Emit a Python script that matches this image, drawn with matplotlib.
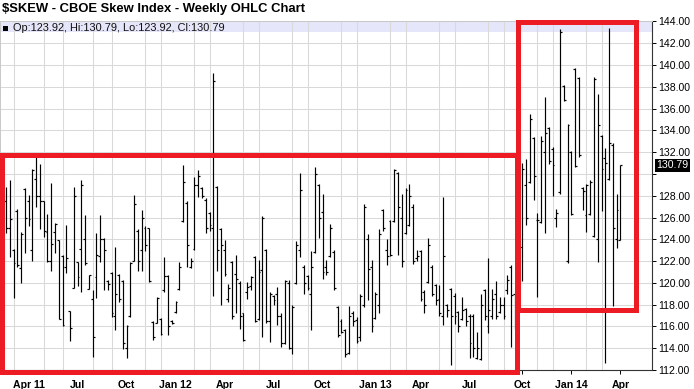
import matplotlib
matplotlib.use("Agg")
import matplotlib.pyplot as plt
from matplotlib.patches import Rectangle
from matplotlib.transforms import blended_transform_factory
import numpy as np
import pandas as pd

plt.rcParams['font.family'] = ['Liberation Sans', 'DejaVu Sans']

# ---------------- data (weekly OHLC of $SKEW) ----------------
first_week = "2011-02-14"
highs = [128.8, 129.4, 123.1, 126.8, 124.7, 128.7, 128.1, 130.5, 131.6, 130.9,
         127.5, 126.3, 129.2, 125.5, 123.9, 122.6, 125.3, 117.4, 128.8, 121.9,
         129.4, 126.2, 120.7, 119.3, 124.6, 126.2, 124.1, 120.3, 121.0, 123.3,
         120.8, 120.3, 116.1, 121.9, 128.1, 124.9, 126.7, 125.2, 125.0, 116.5,
         118.7, 116.8, 122.4, 120.7, 116.6, 118.3, 121.9, 130.8, 127.5, 122.3,
         129.7, 130.4, 128.8, 127.8, 126.5, 139.3, 128.9, 125.0, 123.9, 119.9,
         122.0, 122.6, 120.2, 117.2, 120.1, 120.6, 122.5, 122.1, 126.1, 123.1,
         119.2, 118.9, 119.6, 117.2, 120.3, 120.3, 118.0, 123.8, 130.1, 121.6,
         120.7, 122.9, 130.6, 129.1, 128.2, 122.1, 125.4, 123.0, 117.9, 116.7,
         115.8, 117.9, 117.4, 116.9, 119.0, 127.2, 124.5, 122.1, 119.2, 124.9,
         126.8, 124.0, 125.8, 130.5, 130.2, 128.2, 128.7, 129.1, 127.2, 123.0,
         123.0, 119.3, 124.1, 121.6, 119.9, 119.8, 127.9, 118.1, 119.5, 119.1,
         117.4, 118.7, 117.7, 117.1, 117.1, 115.5, 119.0, 119.4, 122.3, 119.4,
         120.2, 118.7, 118.7, 120.7, 121.6, 119.1, 121.0, 131.0, 131.4, 135.5,
         133.4, 126.4, 133.5, 137.1, 134.3, 132.5, 126.8, 143.3, 138.2, 134.6,
         132.1, 139.7, 138.9, 128.8, 129.1, 129.4, 138.9, 137.3, 133.6, 132.4,
         143.4, 132.8, 128.2, 130.79]
lows = [124.6, 122.4, 118.6, 121.5, 120.0, 122.7, 125.2, 122.0, 127.0, 124.9,
        124.2, 121.9, 121.1, 122.7, 116.7, 116.0, 120.9, 114.7, 119.5, 119.7,
        119.2, 121.6, 119.4, 113.2, 118.6, 121.9, 119.3, 119.3, 116.9, 115.7,
        118.2, 113.9, 113.1, 116.9, 122.0, 121.1, 121.1, 122.9, 120.1, 114.8,
        116.3, 115.2, 119.2, 115.2, 116.2, 117.2, 119.3, 125.6, 121.5, 121.4,
        123.0, 127.9, 127.8, 124.6, 124.8, 118.8, 121.1, 118.0, 120.6, 118.2,
        116.7, 117.2, 115.8, 114.7, 118.5, 119.3, 116.4, 116.6, 115.0, 116.3,
        114.6, 118.0, 116.1, 114.1, 114.4, 113.9, 113.5, 119.9, 122.4, 119.0,
        119.3, 115.7, 122.7, 124.1, 120.4, 120.7, 122.4, 119.3, 115.0, 115.4,
        113.2, 113.5, 116.0, 114.5, 114.7, 117.8, 118.4, 115.5, 116.7, 117.2,
        124.8, 121.6, 122.5, 125.6, 122.6, 121.5, 124.5, 125.2, 121.7, 122.0,
        118.3, 117.2, 120.0, 118.8, 118.0, 117.0, 116.1, 116.9, 112.5, 116.2,
        115.5, 116.6, 116.0, 113.1, 113.2, 113.0, 112.9, 116.6, 115.4, 116.7,
        116.7, 117.2, 116.7, 119.0, 114.1, 115.8, 118.5, 120.2, 125.3, 129.2,
        127.6, 118.7, 125.5, 124.6, 130.9, 128.0, 125.1, 128.2, 136.7, 121.8,
        126.2, 130.6, 131.6, 126.7, 124.7, 126.2, 124.2, 121.9, 126.6, 112.6,
        129.4, 117.9, 123.2, 123.92]
opens = [127.5, 125.0, 123.0, 126.6, 121.4, 128.6, 127.5, 123.0, 129.5, 128.0,
         127.5, 124.7, 122.0, 124.7, 123.9, 122.5, 121.5, 117.4, 119.5, 121.9,
         123.1, 124.0, 119.4, 118.5, 120.5, 122.5, 124.0, 120.2, 120.9, 117.0,
         120.7, 120.2, 114.0, 117.0, 122.0, 124.8, 123.0, 125.0, 125.0, 116.4,
         116.3, 116.7, 119.3, 120.6, 116.5, 117.3, 119.4, 125.7, 127.3, 121.5,
         123.1, 129.0, 128.7, 127.6, 126.4, 125.0, 128.8, 124.9, 123.0, 118.5,
         121.9, 120.8, 120.0, 117.2, 119.2, 119.7, 122.4, 116.7, 121.2, 123.0,
         116.5, 118.8, 119.0, 117.0, 114.5, 120.0, 114.0, 120.0, 123.0, 121.5,
         120.6, 119.0, 122.8, 129.0, 126.5, 121.5, 122.5, 122.8, 117.8, 116.5,
         115.7, 113.6, 117.2, 116.6, 115.0, 118.0, 124.0, 121.5, 116.8, 118.0,
         126.7, 123.0, 125.7, 125.7, 130.1, 126.0, 124.6, 125.3, 127.0, 122.3,
         122.9, 119.2, 120.1, 121.5, 119.8, 118.5, 117.0, 118.0, 119.4, 118.8,
         117.3, 116.7, 117.6, 117.0, 117.0, 113.1, 113.0, 119.3, 116.0, 117.0,
         119.0, 117.3, 118.0, 119.3, 121.5, 119.0, 119.0, 123.3, 129.0, 129.3,
         133.3, 125.8, 125.6, 132.0, 134.2, 132.3, 126.0, 128.3, 138.1, 122.0,
         132.0, 139.6, 138.8, 128.7, 126.2, 126.3, 124.3, 124.0, 133.5, 131.5,
         129.5, 132.7, 124.0, 123.92]
closes = [125.0, 125.9, 121.8, 121.6, 124.5, 126.0, 125.9, 130.4, 128.0, 127.5,
          124.8, 122.0, 123.6, 125.4, 116.7, 116.1, 122.3, 115.9, 128.0, 120.5,
          129.0, 121.8, 120.7, 115.0, 122.6, 124.0, 123.0, 119.9, 117.2, 119.0,
          118.5, 114.5, 116.0, 121.8, 127.2, 122.0, 126.0, 123.5, 120.2, 115.0,
          118.6, 115.3, 120.6, 116.0, 116.3, 118.2, 121.5, 129.3, 123.5, 122.0,
          129.0, 129.8, 128.0, 125.0, 125.3, 138.5, 123.0, 123.5, 120.8, 119.5,
          117.0, 120.4, 117.0, 114.8, 119.6, 120.5, 116.5, 121.0, 126.0, 116.5,
          119.0, 118.4, 117.0, 114.5, 120.2, 114.0, 117.8, 123.5, 128.5, 120.0,
          119.5, 121.5, 130.0, 126.0, 121.0, 121.0, 125.0, 119.5, 115.2, 115.5,
          113.5, 117.0, 116.5, 114.7, 118.8, 127.0, 121.3, 116.0, 119.0, 124.5,
          125.0, 122.5, 122.6, 130.4, 127.0, 122.0, 128.5, 128.0, 122.0, 122.5,
          118.5, 118.0, 123.5, 119.0, 118.4, 117.2, 122.5, 117.5, 117.0, 117.0,
          116.0, 117.5, 116.5, 114.5, 114.0, 114.0, 118.0, 117.0, 117.5, 118.5,
          117.0, 118.0, 117.0, 120.3, 118.9, 116.0, 120.5, 130.5, 126.0, 135.0,
          129.8, 125.8, 133.0, 133.8, 131.2, 130.8, 126.4, 143.0, 136.8, 134.5,
          126.3, 130.7, 131.7, 128.4, 129.0, 129.3, 138.7, 134.5, 130.5, 131.0,
          132.8, 125.0, 126.7, 130.79]
y_ticks = [112, 114, 116, 118, 120, 122, 124, 126, 128, 130, 132, 134, 136, 138, 140, 142, 144]
last_close = 130.79
title = "$SKEW - CBOE Skew Index - Weekly OHLC Chart"
header = "Op:123.92, Hi:130.79, Lo:123.92, Cl:130.79"

# ---------------- figure ----------------
W, H = 694, 389
fig = plt.figure(figsize=(W / 100, H / 100), dpi=100)
ax_l, ax_r, ax_t, ax_b = 0, 652, 20.6, 370
ax = fig.add_axes([ax_l / W, 1 - ax_b / H, (ax_r - ax_l) / W, (ax_b - ax_t) / H])

n = len(highs)
x = np.arange(n)
dates = pd.date_range(first_week, periods=n, freq="W-MON")

spacing = 3.769
x0_px = 6.0
ax.set_xlim((ax_l - x0_px) / spacing, (ax_r - x0_px) / spacing)
ax.set_ylim(112, 144.08)

# month boundaries (last bar of each month) and quarter labels
month_pos, q_pos, q_lab = [], [], []
for i in range(n):
    nxt = dates[i] + pd.Timedelta(days=7)
    if nxt.month != dates[i].month:
        month_pos.append(i)
        if nxt.month in (1, 4, 7, 10):
            q_pos.append(i)
            lab = nxt.strftime("%b")
            if nxt.month == 1 or len(q_lab) == 0:
                lab += " " + nxt.strftime("%y")
            q_lab.append(lab)

grid_c = "#d9d9d9"
ax.set_yticks(y_ticks)
ax.set_yticklabels(["" if abs(v - 130) < 1e-9 else f"{v:.2f}" for v in y_ticks])
ax.set_xticks(q_pos)
ax.set_xticklabels(q_lab, fontweight="bold", fontsize=7.6)
ax.set_xticks(month_pos, minor=True)
ax.grid(True, which="major", axis="y", color=grid_c, lw=0.75, zorder=0)
ax.grid(True, which="minor", axis="x", color=grid_c, lw=0.75, zorder=0)
ax.set_axisbelow(True)
ax.yaxis.tick_right()
ax.tick_params(axis="y", which="major", length=3, width=0.7, pad=1.2, labelsize=7.6, colors="#000000")
ax.tick_params(axis="x", which="major", length=3, width=0.7, pad=4, colors="#000000")
ax.tick_params(axis="x", which="minor", length=0)

for s in ("top", "left"):
    ax.spines[s].set_color("#c8c8c8")
    ax.spines[s].set_linewidth(0.7)
for s in ("right", "bottom"):
    ax.spines[s].set_color("#333333")
    ax.spines[s].set_linewidth(0.8)

# header band
ax.axhspan(143.0, 144.08, color="#e6e6fa", zorder=-1, lw=0)

# OHLC bars
tk = 0.5
ax.vlines(x, lows, highs, color="black", lw=0.85, zorder=3)
ax.hlines(opens, x - tk, x, color="black", lw=0.85, zorder=3)
ax.hlines(closes, x, x + tk, color="black", lw=0.85, zorder=3)

# last value label
tr = blended_transform_factory(ax.transAxes, ax.transData)
ax.text(1 + 4.5 / (ax_r - ax_l), last_close, f"{last_close:.2f}", transform=tr,
        ha="left", va="center", fontsize=7.6, color="white",
        bbox=dict(boxstyle="square,pad=0.12", fc="black", ec="none"), zorder=5, clip_on=False)

# title and header text
fig.text(2 / W, 1 - 12.4 / H, title, fontsize=9.4, fontweight="bold", ha="left", va="baseline")
fig.add_artist(Rectangle((3.3 / W, 1 - 30.7 / H), 4.2 / W, 4.2 / H, transform=fig.transFigure,
                         fc="black", ec="none"))
fig.text(12.7 / W, 1 - 31.3 / H, header, fontsize=7.9, ha="left", va="baseline", color="#111111")

# red annotation rectangles (in data coordinates)
red = "#ed1c24"
r1 = Rectangle((-0.93, 111.83), 135.63 + 0.93, 131.71 - 111.83, fill=False, ec=red, lw=3.6,
               zorder=6, clip_on=False, joinstyle="miter")
r2 = Rectangle((135.92, 117.53), 167.1 - 135.92, 143.91 - 117.53, fill=False, ec=red, lw=3.6,
               zorder=6, clip_on=False, joinstyle="miter")
ax.add_patch(r1)
ax.add_patch(r2)

fig.savefig("out.png", dpi=100)
